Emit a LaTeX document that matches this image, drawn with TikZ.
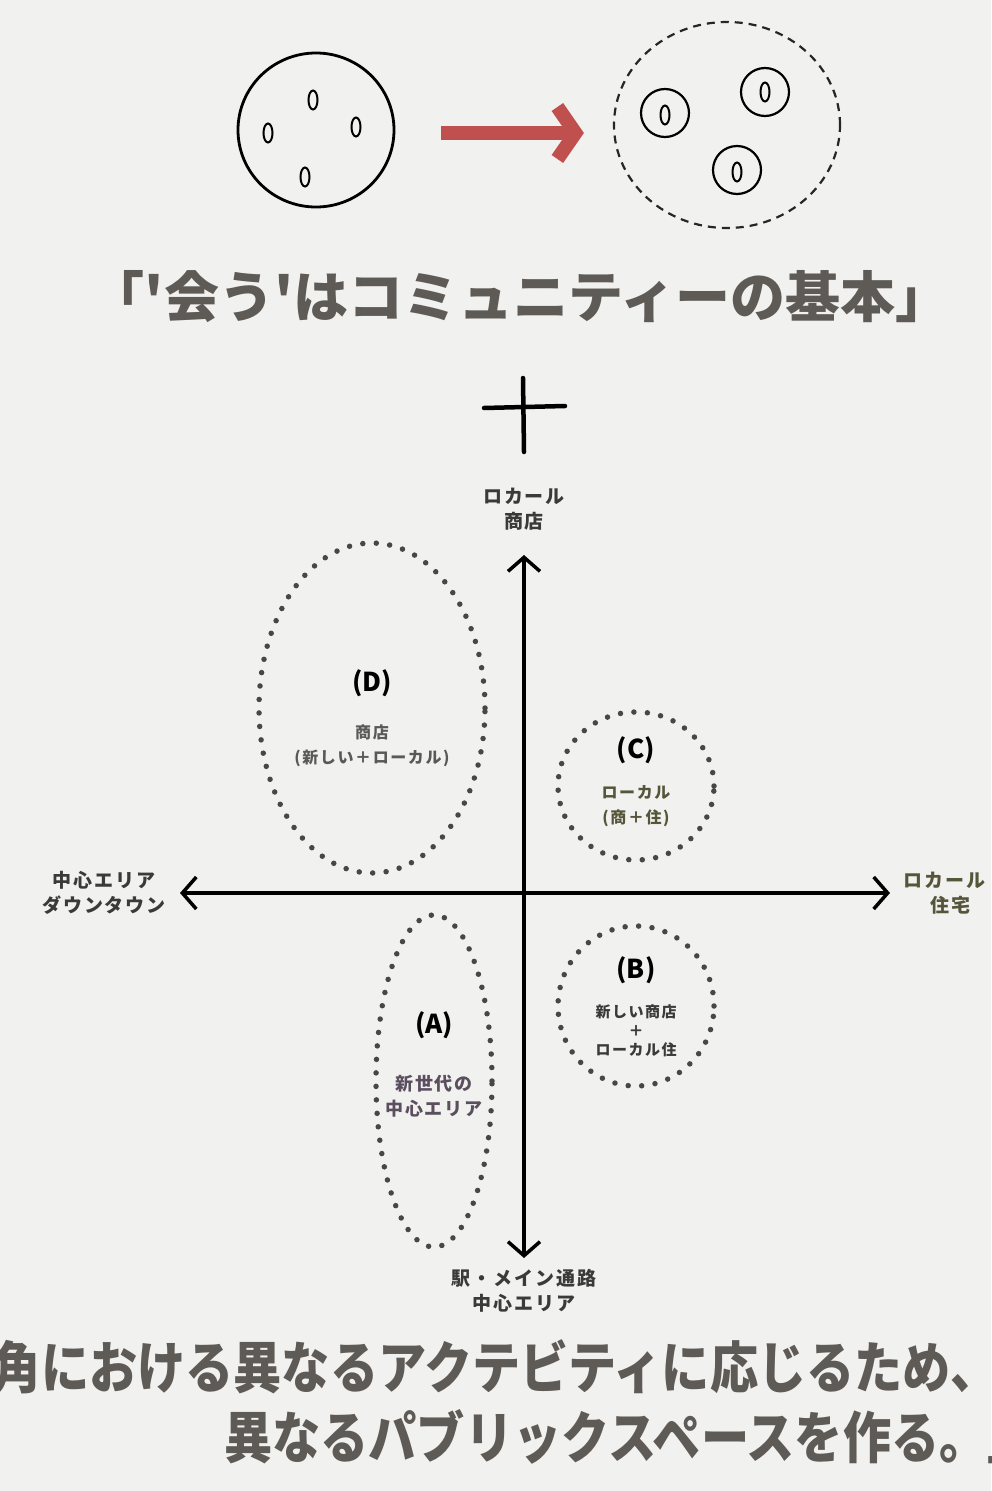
\documentclass[tikz,border=0pt]{standalone}
\usepackage{fontspec}
\usetikzlibrary{arrows.meta,shapes.geometric}
\newfontfamily\cjk{Noto Sans CJK JP}
\newfontfamily\cjkw[FakeStretch=0.86]{Noto Sans CJK JP}
\newfontfamily\cjks[LetterSpace=10]{Noto Sans CJK JP}
\definecolor{bg}{HTML}{F1F1F0}
\definecolor{txt}{HTML}{5E5A56}
\definecolor{redar}{HTML}{C0504D}
\definecolor{lbl}{HTML}{3A3A3A}
\definecolor{olv}{HTML}{55553A}
\definecolor{purp}{HTML}{5B4E5E}
\begin{document}
\begin{tikzpicture}[x=1pt,y=-1pt,
  hand/.style={draw=black,line width=2.8pt},
  seed/.style={ellipse,draw=black,line width=2pt,minimum width=9pt,minimum height=19pt,inner sep=0pt},
  cell/.style={circle,draw=black,line width=2.2pt,minimum size=48pt,inner sep=0pt},
  region/.style={ellipse,draw=black!72,line width=5.5pt,line cap=round,dash pattern=on 0pt off 13.5pt,inner sep=0pt},
  axis/.style={line width=3.5pt,-{Straight Barb[length=14pt,width=32pt]}},
  redarrow/.style={draw=redar,line width=14pt,-{Straight Barb[length=18pt,width=52pt]}},
  big/.style={text=txt,font=\cjk\bfseries\fontsize{55}{60}\selectfont},
  bottomtxt/.style={text=txt,font=\cjkw\bfseries\fontsize{56}{60}\selectfont},
  ax/.style={align=center,text=lbl,font=\cjks\bfseries\fontsize{19}{25}\selectfont},
  inlbl/.style={align=center,text=lbl,font=\cjks\bfseries\fontsize{16}{25}\selectfont},
  letter/.style={text=black,font=\cjk\bfseries\fontsize{26}{30}\selectfont}]
\useasboundingbox (0,0) rectangle (991,1491);
\fill[bg] (0,0) rectangle (991,1491);

% top: group before
\node[ellipse,hand,minimum width=156pt,minimum height=154pt,inner sep=0pt] (lc) at (316,130) {};
\node[seed] (s1) at (313,100) {};
\node[seed] (s2) at (268,133) {};
\node[seed] (s3) at (356,127) {};
\node[seed] (s4) at (305,177) {};

% top: groups after
\node[ellipse,draw=black!85,line width=2.2pt,dash pattern=on 8pt off 6pt,minimum width=226pt,minimum height=206pt,inner sep=0pt] (rc) at (727,125) {};
\node[cell] (c1) at (665,113) {};
\node[cell] (c2) at (765,92) {};
\node[cell] (c3) at (737,170) {};
\node[seed] (t1) at (665,115) {};
\node[seed] (t2) at (765,92) {};
\node[seed] (t3) at (737,172) {};

\draw[redarrow,shorten <=46pt,shorten >=29pt] ([yshift=-3pt]lc.east) -- ([yshift=-8pt]rc.west);

\node[big] (title) at (520,297) {「'会う'はコミュニティーの基本」};

% plus sign
\draw[line width=4.5pt,line cap=round] (523,378) -- (524,452);
\draw[line width=4.5pt,line cap=round] (484,408) -- (565,406);

% regions
\node[region,minimum width=226pt,minimum height=330pt] (D) at (372,708) {};
\node[region,minimum width=156pt,minimum height=148pt] (C) at (636,786) {};
\node[region,minimum width=156pt,minimum height=160pt] (B) at (636,1006) {};
\node[region,minimum width=116pt,minimum height=332pt] (A) at (434,1081) {};

% axes
\coordinate (o) at (524,893);
\coordinate (top) at (524,555);
\coordinate (bot) at (524,1258);
\coordinate (lft) at (180,893);
\coordinate (rgt) at (890,893);
\draw[axis] (o) -- (top);
\draw[axis] (o) -- (bot);
\draw[axis] (o) -- (lft);
\draw[axis] (o) -- (rgt);

% axis labels
\node[ax] (ltop) at (524,509) {ロカール\\商店};
\node[ax] (llft) at (104,893) {中心エリア\\ダウンタウン};
\node[ax,text=olv,anchor=west] (lrgt) at (900,893) {ロカール\\\ \ 住宅};
\node[ax] (lbot) at (524,1291) {駅・メイン通路\\中心エリア};

% region texts
\node[letter] (Dl) at (372,683) {(D)};
\node[inlbl,text=black!65] (Dt) at (372,746) {商店\\(新しい＋ローカル)};
\node[letter] (Cl) at (636,750) {(C)};
\node[inlbl,text=olv] (Ct) at (636,806) {ローカル\\(商＋住)};
\node[letter] (Bl) at (636,970) {(B)};
\node[inlbl,font=\cjks\bfseries\fontsize{15}{19}\selectfont] (Bt) at (636,1031) {新しい商店\\＋\\ローカル住};
\node[letter] (Al) at (434,1025) {(A)};
\node[inlbl,text=purp,font=\cjks\bfseries\fontsize{18}{25}\selectfont] (At) at (434,1096) {新世代の\\中心エリア};

% bottom text
\node[bottomtxt] (b1) at (496,1367) {角における異なるアクテビティに応じるため、};
\node[bottomtxt] (b2) at (630,1437) {異なるパブリックスペースを作る。」};
\end{tikzpicture}
\end{document}
